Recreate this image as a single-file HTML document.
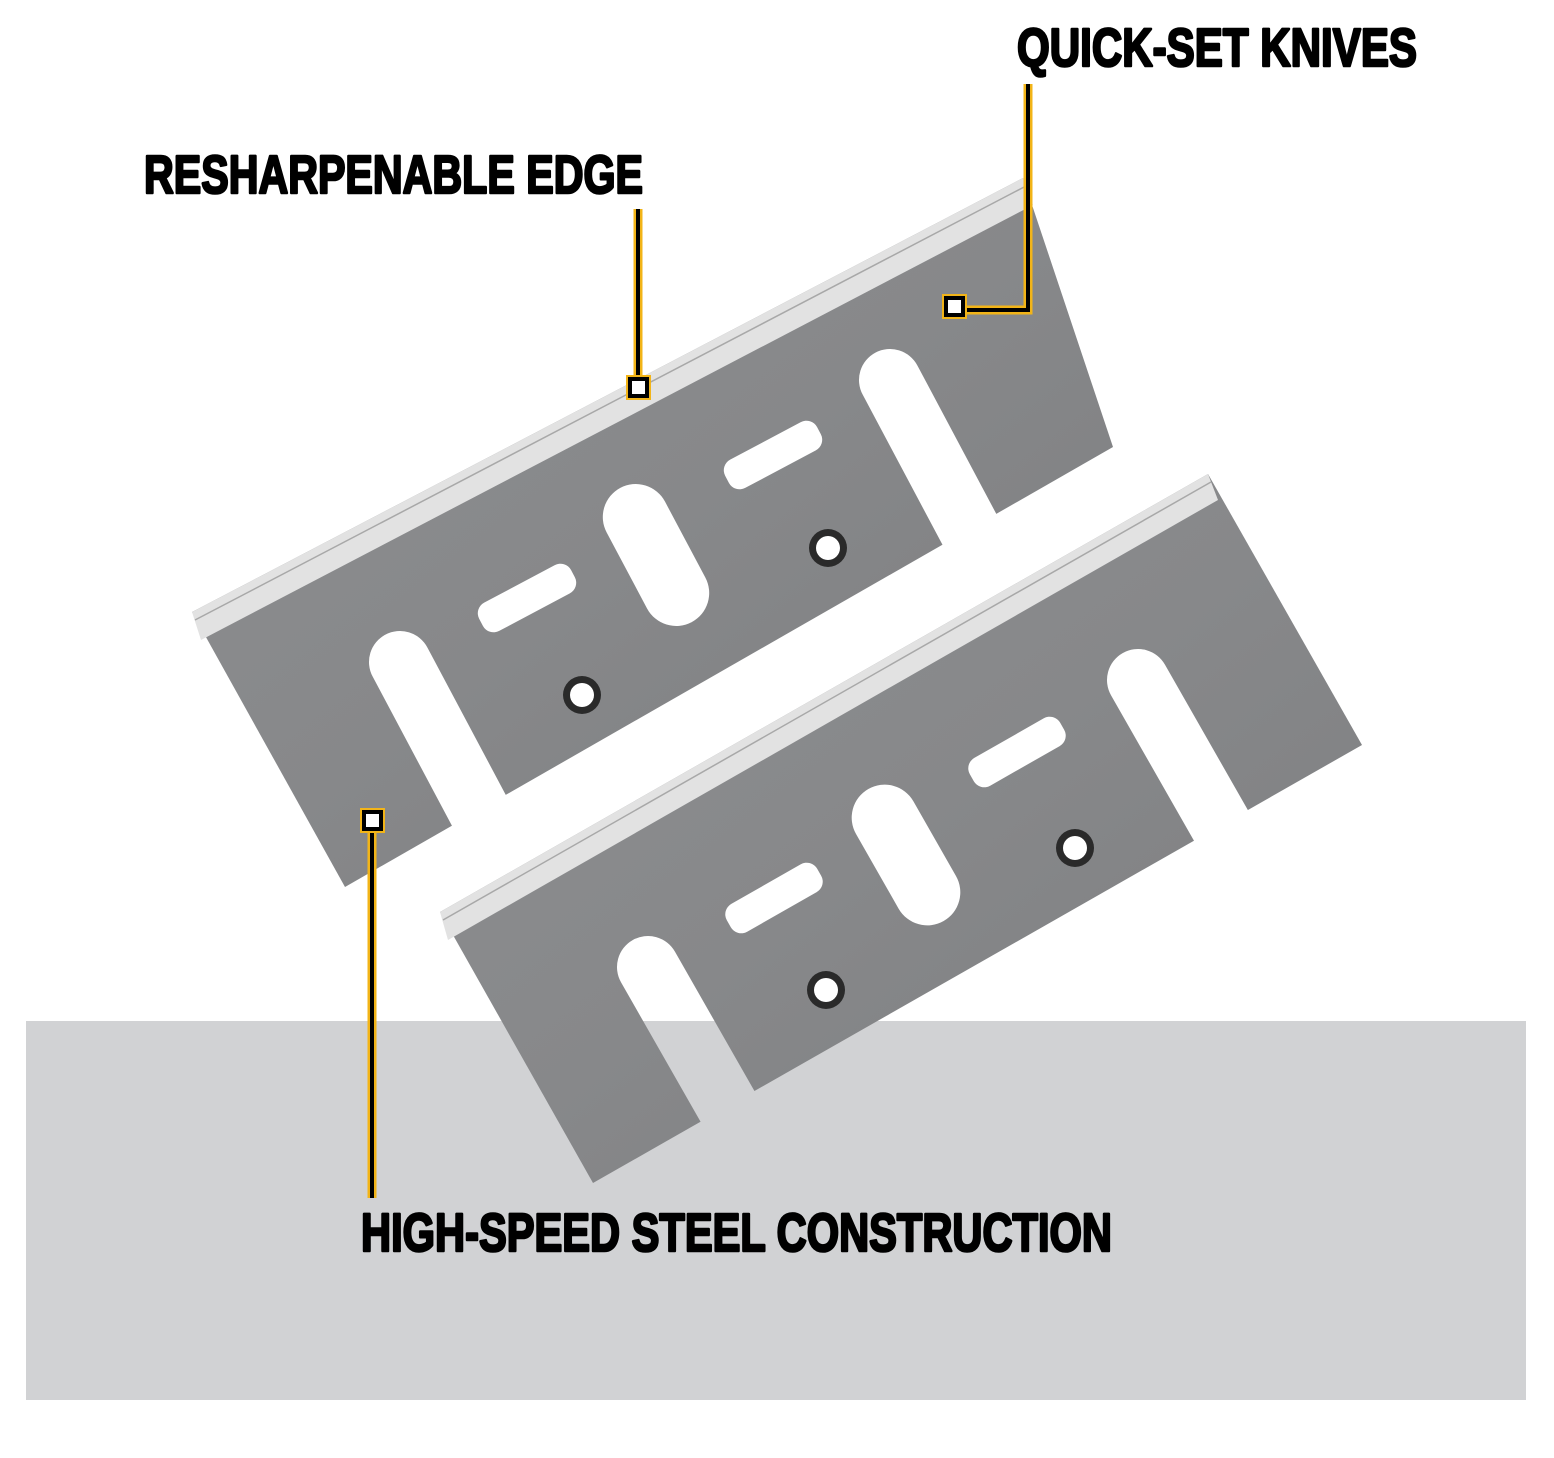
<!DOCTYPE html>
<html><head><meta charset="utf-8"><style>
html,body{margin:0;padding:0;background:#fff;}
svg{display:block;}
</style></head><body>
<svg width="1554" height="1458" viewBox="0 0 1554 1458" xmlns="http://www.w3.org/2000/svg">
<defs>
<linearGradient id="g1" x1="0" y1="0" x2="1" y2="1">
<stop offset="0" stop-color="#8e8f91"/><stop offset="0.5" stop-color="#87888a"/><stop offset="1" stop-color="#7c7d7f"/>
</linearGradient>
<mask id="m1" maskUnits="userSpaceOnUse" x="0" y="0" width="1554" height="1458">
<rect width="1554" height="1458" fill="#fff"/>
<g fill="#000">
<g transform="translate(890,380) rotate(-28)"><rect x="-31" y="-31" width="62" height="330" rx="31"/></g>
<g transform="translate(400,662) rotate(-28)"><rect x="-31" y="-31" width="62" height="330" rx="31"/></g>
<g transform="translate(656,555) rotate(-28)"><rect x="-33" y="-76" width="66" height="152" rx="33"/></g>
<g transform="translate(527,598) rotate(-28)"><rect x="-52" y="-16" width="104" height="32" rx="12"/></g>
<g transform="translate(773,455) rotate(-28)"><rect x="-52" y="-16" width="104" height="32" rx="12"/></g>
</g>
</mask>
<mask id="m2" maskUnits="userSpaceOnUse" x="0" y="0" width="1554" height="1458">
<rect width="1554" height="1458" fill="#fff"/>
<g fill="#000">
<g transform="translate(1138,680) rotate(-29.7)"><rect x="-31" y="-31" width="62" height="330" rx="31"/></g>
<g transform="translate(648,967) rotate(-29.7)"><rect x="-31" y="-31" width="62" height="330" rx="31"/></g>
<g transform="translate(906,855) rotate(-29.7)"><rect x="-33" y="-76" width="66" height="152" rx="33"/></g>
<g transform="translate(774,898) rotate(-29.7)"><rect x="-52" y="-16" width="104" height="32" rx="12"/></g>
<g transform="translate(1017,752) rotate(-29.7)"><rect x="-52" y="-16" width="104" height="32" rx="12"/></g>
</g>
</mask>
</defs>

<rect x="26" y="1021" width="1500" height="379" fill="#d1d2d4"/>

<!-- Blade 1 -->
<g mask="url(#m1)">
<polygon points="192,612 1023,178 1113,447 345,887" fill="url(#g1)"/>
<polygon points="192,612 1023,178 1033,205 201,640" fill="#e2e2e2"/>
<line x1="195" y1="620" x2="1026" y2="186" stroke="#a8a8a8" stroke-width="1.5"/>
</g>
<circle cx="582" cy="695" r="19" fill="#2a2a2a"/><circle cx="582" cy="695" r="12" fill="#fff"/>
<circle cx="828" cy="548" r="19" fill="#2a2a2a"/><circle cx="828" cy="548" r="12" fill="#fff"/>

<!-- Blade 2 -->
<g mask="url(#m2)">
<polygon points="440,912 1208,474 1362,745 593,1183" fill="url(#g1)"/>
<polygon points="440,912 1208,474 1218,500 448,940" fill="#e2e2e2"/>
<line x1="443" y1="920" x2="1211" y2="482" stroke="#a8a8a8" stroke-width="1.5"/>
</g>
<circle cx="826" cy="990" r="19" fill="#2a2a2a"/><circle cx="826" cy="990" r="12" fill="#fff"/>
<circle cx="1075" cy="848" r="19" fill="#2a2a2a"/><circle cx="1075" cy="848" r="12" fill="#fff"/>

<!-- connectors -->
<g fill="none" stroke-linejoin="miter">
<polyline points="638,209 638,378" stroke="#f2b418" stroke-width="9"/>
<polyline points="638,209 638,378" stroke="#000" stroke-width="4"/>
<polyline points="1028,84 1028,310 962,310" stroke="#f2b418" stroke-width="9"/>
<polyline points="1028,84 1028,310 962,310" stroke="#000" stroke-width="4"/>
<polyline points="372,830 372,1198" stroke="#f2b418" stroke-width="9"/>
<polyline points="372,830 372,1198" stroke="#000" stroke-width="4"/>
</g>
<g>
<rect x="626" y="375" width="25" height="25" fill="#f2b418"/><rect x="628" y="377" width="21" height="21" fill="#000"/><rect x="632" y="381" width="13" height="13" fill="#fff"/>
<rect x="942" y="294" width="25" height="25" fill="#f2b418"/><rect x="944" y="296" width="21" height="21" fill="#000"/><rect x="948" y="300" width="13" height="13" fill="#fff"/>
<rect x="360" y="808" width="25" height="25" fill="#f2b418"/><rect x="362" y="810" width="21" height="21" fill="#000"/><rect x="366" y="814" width="13" height="13" fill="#fff"/>
</g>

<g font-family="'Liberation Sans', sans-serif" font-weight="bold" fill="#000" stroke="#000" stroke-width="2.6" stroke-linejoin="round" font-size="54">
<text x="1017" y="66" textLength="400" lengthAdjust="spacingAndGlyphs">QUICK-SET KNIVES</text>
<text x="144" y="193" textLength="499" lengthAdjust="spacingAndGlyphs">RESHARPENABLE EDGE</text>
<text x="361" y="1251" textLength="751" lengthAdjust="spacingAndGlyphs">HIGH-SPEED STEEL CONSTRUCTION</text>
</g>
</svg>
</body></html>
